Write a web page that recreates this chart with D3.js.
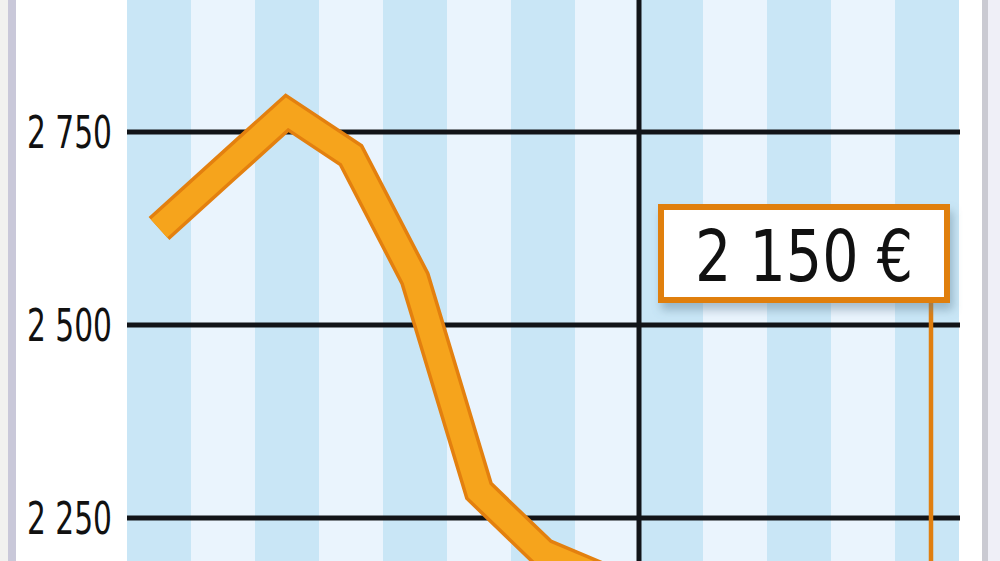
<!DOCTYPE html>
<html><head><meta charset="utf-8">
<script src="https://cdn.jsdelivr.net/npm/d3@7/dist/d3.min.js"></script>
<style>
html,body{margin:0;padding:0;background:#fff;overflow:hidden}
svg{display:block}
</style></head>
<body>
<svg id="c" width="1000" height="561"></svg>
<script>
// 13 monthly categories (axis labels are cropped out of the picture)
const months = ["mai","juin","juil.","août","sept.","oct.","nov.","déc.","janv.","févr.","mars","avr.","mai "];
// price in euros
const prices = [2625, 2700, 2775, 2720, 2560, 2285, 2205, 2170, 2160, 2150, 2140, 2145, 2150];
const yTicks = [2250, 2500, 2750];
const yearBreakIndex = 8;   // first month of the new year
const lastLabel = "2 150 €";

const svg = d3.select("#c");
const W = 1000, H = 561;

const x = d3.scaleBand().domain(months).range([127, 959]).padding(0);
const y = d3.scaleLinear().domain([2250, 2750]).range([518, 132]);

// page frame
svg.append("rect").attr("x",0).attr("y",0).attr("width",8).attr("height",H).attr("fill","#f1f1ef");
svg.append("rect").attr("x",8).attr("y",0).attr("width",8).attr("height",H).attr("fill","#c9c8d9");
svg.append("rect").attr("x",982).attr("y",0).attr("width",6).attr("height",H).attr("fill","#cacad2");
svg.append("rect").attr("x",988).attr("y",0).attr("width",12).attr("height",H).attr("fill","#efeff7");

// stripes
svg.append("g").selectAll("rect").data(months).join("rect")
  .attr("x", d => x(d))
  .attr("y", 0)
  .attr("width", x.bandwidth())
  .attr("height", H)
  .attr("fill", (d,i) => i % 2 === 0 ? "#c9e6f6" : "#eaf4fd");

// horizontal grid lines
svg.append("g").selectAll("line").data(yTicks).join("line")
  .attr("x1", 127).attr("x2", 960)
  .attr("y1", d => y(d)).attr("y2", d => y(d))
  .attr("stroke", "#121418").attr("stroke-width", 5);

// year separator
const xb = x(months[yearBreakIndex]);
svg.append("line").attr("x1", xb).attr("x2", xb).attr("y1", 0).attr("y2", H)
  .attr("stroke", "#121418").attr("stroke-width", 5);

// y tick labels
const fmt = v => d3.format(",")(v).replace(",", " ");
svg.append("g").selectAll("text").data(yTicks).join("text")
  .attr("x", 27).attr("y", d => y(d) + 16)
  .attr("font-family", "'DejaVu Sans Condensed','DejaVu Sans',sans-serif")
  .attr("font-size", 44)
  .attr("textLength", 85).attr("lengthAdjust", "spacingAndGlyphs")
  .attr("fill", "#111")
  .text(d => fmt(d));

// line
const line = d3.line().x((d,i) => x(months[i]) + x.bandwidth()/2).y(d => y(d));
svg.append("path").datum(prices).attr("d", line)
  .attr("fill","none").attr("stroke","#e3800f").attr("stroke-width",31)
  .attr("stroke-linejoin","miter").attr("stroke-miterlimit",10).attr("stroke-linecap","butt");
svg.append("path").datum(prices).attr("d", line)
  .attr("fill","none").attr("stroke","#f6a41c").attr("stroke-width",24)
  .attr("stroke-linejoin","miter").attr("stroke-miterlimit",10).attr("stroke-linecap","butt");

// value callout
const lastX = x(months[months.length-1]) + x.bandwidth()/2 + 4;
const defs = svg.append("defs");
const f = defs.append("filter").attr("id","sh").attr("x","-20%").attr("y","-20%").attr("width","140%").attr("height","160%");
f.append("feDropShadow").attr("dx",3).attr("dy",7).attr("stdDeviation",5).attr("flood-color","#5a7a90").attr("flood-opacity",0.45);

svg.append("line").attr("x1", lastX).attr("x2", lastX).attr("y1", 300).attr("y2", H)
  .attr("stroke", "#e07f10").attr("stroke-width", 4.5);
svg.append("rect").attr("x", 661).attr("y", 207).attr("width", 286).attr("height", 93)
  .attr("fill", "#fff").attr("stroke", "#e07f10").attr("stroke-width", 6)
  .attr("filter", "url(#sh)");
svg.append("text").attr("x", 695).attr("y", 281)
  .attr("font-family", "'DejaVu Sans Condensed','DejaVu Sans',sans-serif")
  .attr("font-size", 72)
  .attr("textLength", 218).attr("lengthAdjust", "spacingAndGlyphs")
  .attr("fill", "#111")
  .text(lastLabel);
</script>
</body></html>
